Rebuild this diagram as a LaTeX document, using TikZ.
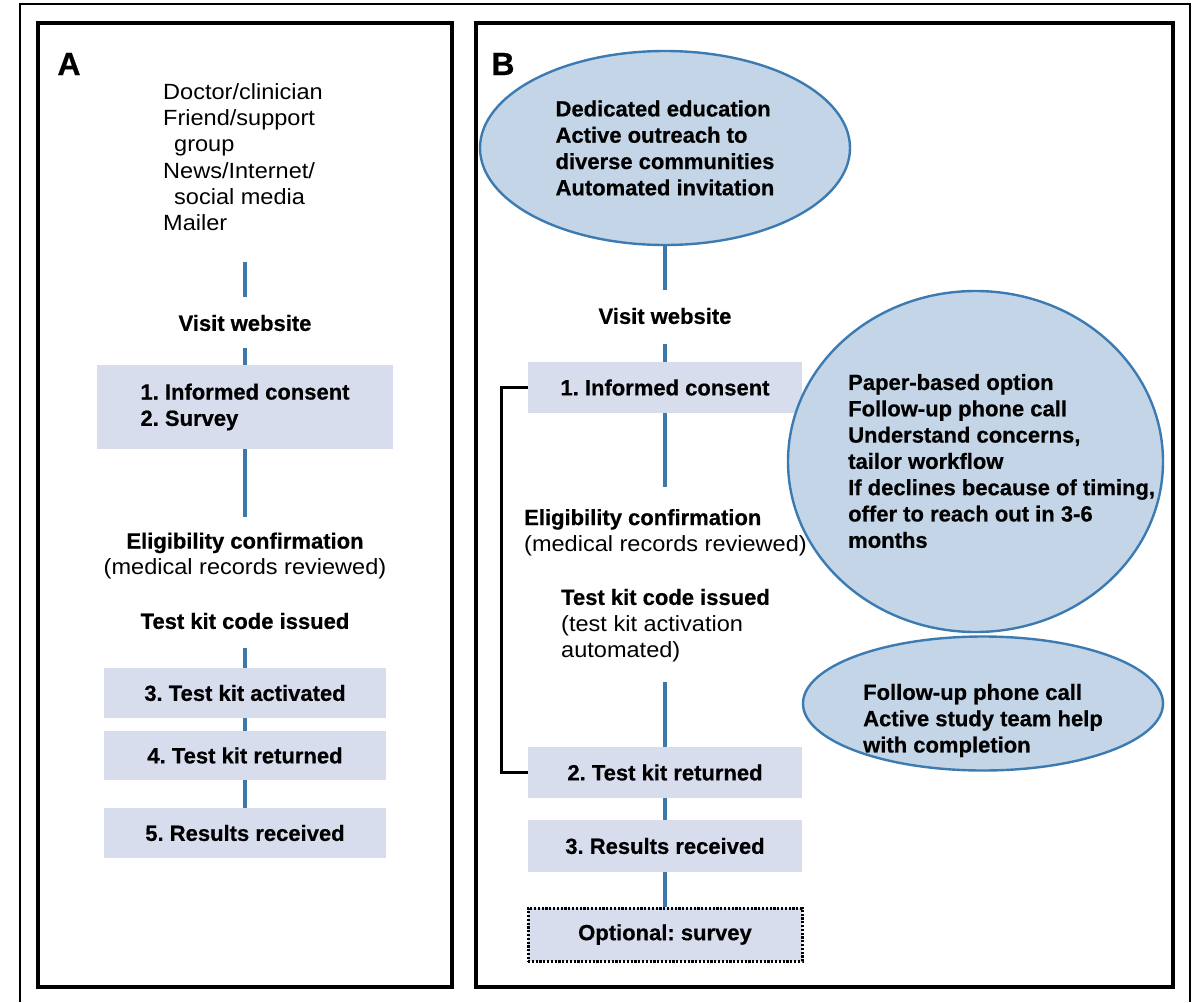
\documentclass[tikz,border=0pt]{standalone}
\usepackage{fontspec}
\setmainfont{Liberation Sans}[BoldFeatures={FakeBold=0.6}]
\newfontfamily\regfont{Liberation Sans}[FakeStretch=1.07]
\usetikzlibrary{shapes.geometric}
\definecolor{connblue}{HTML}{3A78AE}
\definecolor{boxfill}{HTML}{D8DDEE}
\definecolor{ellfill}{HTML}{C3D5E6}
\definecolor{elledge}{HTML}{3C7BB2}
\frenchspacing
\begin{document}
\begin{tikzpicture}[x=1pt,y=-1pt,
  btxt/.style={inner sep=0pt, font=\fontsize{22}{26.3}\selectfont\bfseries},
  rtxt/.style={inner sep=0pt, font=\fontsize{22}{26.3}\selectfont\regfont},
  lbl/.style={inner sep=0pt, font=\fontsize{32}{32}\selectfont\bfseries},
  conn/.style={draw=connblue, line width=3.3pt},
  stepbox/.style={fill=boxfill, draw=none, inner sep=0pt, align=left,
    font=\fontsize{22}{26.3}\selectfont\bfseries},
  optbox/.style={stepbox, draw=black, line width=3pt, dash pattern=on 2.2pt off 1.6pt},
  ell/.style={ellipse, draw=elledge, fill=ellfill, line width=2.4pt, inner sep=0pt},
  brk/.style={draw=black, line width=3pt}]
\useasboundingbox (0,0) rectangle (1197,1002);
\fill[white] (0,0) rectangle (1197,1002);
% frames
\draw[line width=1.8pt] (20,1002) -- (20,4) -- (1190,4) -- (1190,1002);
\draw[line width=3.6pt] (38,23) rectangle (452,987);
\draw[line width=3.6pt] (476,23) rectangle (1173,987);

% ---------------- Panel A ----------------
\node[lbl] (labA) at (69,64) {A};
\node[rtxt, anchor=west, align=left] (srcA) at (163,157)
  {Doctor/clinician\\Friend/support\\\hspace*{11pt}group\\News/Internet/\\\hspace*{11pt}social media\\Mailer};
\node[btxt] (visitA) at (245,323) {Visit website};
\node[stepbox, minimum width=296pt, minimum height=84pt] (boxA1) at (245,407)
  {1. Informed consent\\2. Survey};
\node[align=center, inner sep=0pt, font=\fontsize{22}{26.3}\selectfont] (eligA) at (245,556)
  {{\bfseries Eligibility confirmation}\\{\regfont (medical records reviewed)}};
\node[btxt] (testA) at (245,621) {Test kit code issued};
\node[stepbox, minimum width=282pt, minimum height=50pt] (boxA3) at (245,693) {3. Test kit activated};
\node[stepbox, minimum width=282pt, minimum height=49pt] (boxA4) at (245,755.5) {4. Test kit returned};
\node[stepbox, minimum width=282pt, minimum height=50pt] (boxA5) at (245,833) {5. Results received};

\draw[conn, shorten <=31pt, shorten >=18pt] (srcA.south -| visitA.north) -- (visitA.north);
\draw[conn, shorten <=17pt] (visitA.south) -- (boxA1.north);
\draw[conn, shorten >=15pt] (boxA1.south) -- (eligA.north);
\draw[conn, shorten <=19pt] (testA.south) -- (boxA3.north);
\draw[conn] (boxA3.south) -- (boxA4.north);
\draw[conn] (boxA4.south) -- (boxA5.north);

% ---------------- Panel B ----------------
\node[lbl] (labB) at (503,64) {B};
\node[ell, minimum width=370pt, minimum height=194pt, align=left,
  font=\fontsize{22}{26.3}\selectfont\bfseries] (ellTop) at (665,148)
  {Dedicated education\\Active outreach to\\diverse communities\\Automated invitation};
\node[btxt] (visitB) at (665,316) {Visit website};
\node[stepbox, minimum width=274pt, minimum height=51pt] (boxB1) at (665,387.5) {1. Informed consent};
\coordinate (eB) at (665,487);
\node[anchor=west, align=left, inner sep=0pt, font=\fontsize{22}{26.3}\selectfont] (eligB) at (524,532.5)
  {{\bfseries Eligibility confirmation}\\{\regfont (medical records reviewed)}};
\node[anchor=west, align=left, inner sep=0pt, font=\fontsize{22}{26.3}\selectfont] (testB) at (561,625.5)
  {{\bfseries Test kit code issued}\\{\regfont (test kit activation}\\{\regfont automated)}};
\coordinate (tB) at (665,682);
\node[stepbox, minimum width=274pt, minimum height=51pt] (boxB2) at (665,772.5) {2. Test kit returned};
\node[stepbox, minimum width=274pt, minimum height=52pt] (boxB3) at (665,846) {3. Results received};
\node[optbox, minimum width=274pt, minimum height=53pt] (optB) at (665,934.5) {Optional: survey};

\draw[conn, shorten >=18pt] (ellTop.south) -- (visitB.north);
\draw[conn, shorten <=20pt] (visitB.south) -- (boxB1.north);
\draw[conn] (boxB1.south) -- (eB);
\draw[conn] (tB) -- (boxB2.north);
\draw[conn] (boxB2.south) -- (boxB3.north);
\draw[conn] (boxB3.south) -- (optB.north);
\draw[brk] (boxB1.west) -- ++(-26,0) |- (boxB2.west);

% right ellipses
\node[ell, minimum width=375pt, minimum height=341pt] (ellR1) at (975.5,461.5) {};
\node[btxt, anchor=west, align=left] (txtR1) at (848,461)
  {Paper-based option\\Follow-up phone call\\Understand concerns,\\tailor workflow\\If declines because of timing,\\offer to reach out in 3-6\\months};
\node[ell, minimum width=360pt, minimum height=134pt] (ellR2) at (983,703.5) {};
\node[btxt, anchor=west, align=left] (txtR2) at (863,720.5)
  {Follow-up phone call\\Active study team help\\with completion};
\end{tikzpicture}
\end{document}
